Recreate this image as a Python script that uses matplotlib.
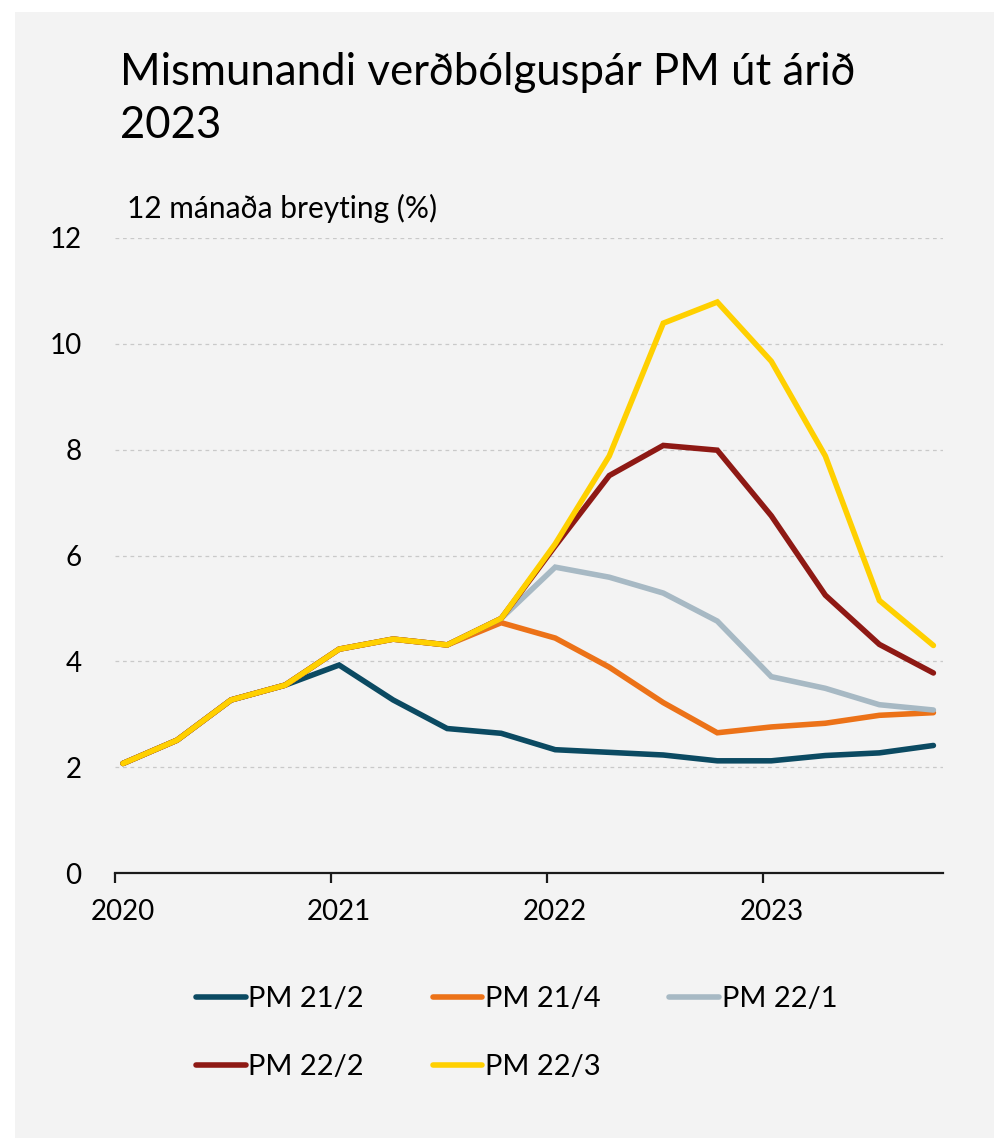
import matplotlib
matplotlib.use("Agg")
import matplotlib.pyplot as plt
import matplotlib.transforms as mtransforms
from matplotlib.patches import Rectangle
import numpy as np

plt.rcParams['font.family'] = ['Lato', 'DejaVu Sans']

# Quarterly data 2020Q1 - 2023Q4
quarters = ["2020Q1", "2020Q2", "2020Q3", "2020Q4",
            "2021Q1", "2021Q2", "2021Q3", "2021Q4",
            "2022Q1", "2022Q2", "2022Q3", "2022Q4",
            "2023Q1", "2023Q2", "2023Q3", "2023Q4"]

pm_21_2 = [2.07, 2.51, 3.27, 3.55, 3.93, 3.27, 2.73, 2.64,
           2.33, 2.28, 2.23, 2.12, 2.12, 2.22, 2.27, 2.41]
pm_21_4 = [2.07, 2.51, 3.27, 3.55, 4.23, 4.42, 4.31, 4.73,
           4.44, 3.89, 3.22, 2.65, 2.76, 2.83, 2.98, 3.03]
pm_22_1 = [2.07, 2.51, 3.27, 3.55, 4.23, 4.42, 4.31, 4.81,
           5.78, 5.59, 5.29, 4.76, 3.71, 3.49, 3.18, 3.08]
pm_22_2 = [2.07, 2.51, 3.27, 3.55, 4.23, 4.42, 4.31, 4.81,
           6.18, 7.51, 8.08, 7.99, 6.75, 5.25, 4.32, 3.78]
pm_22_3 = [2.07, 2.51, 3.27, 3.55, 4.23, 4.42, 4.31, 4.81,
           6.22, 7.88, 10.39, 10.79, 9.67, 7.88, 5.15, 4.30]

series_names = ["PM 21/2", "PM 21/4", "PM 22/1", "PM 22/2", "PM 22/3"]
series_values = [pm_21_2, pm_21_4, pm_22_1, pm_22_2, pm_22_3]
series_colors = ["#0B4A62", "#EC7218", "#A7B9C4", "#8E1914", "#FFD000"]

year_ticks = [2020, 2021, 2022, 2023]
y_ticks = [0, 2, 4, 6, 8, 10, 12]

title_line1 = "Mismunandi verðbólguspár PM út árið"
title_line2 = "2023"
subtitle = "12 mánaða breyting (%)"

# x positions: quarter start dates (approx. mid-January offset)
x = np.array([int(q[:4]) + (int(q[-1]) - 1) / 4 + 0.037 for q in quarters])

W, H = 995, 1138
fig = plt.figure(figsize=(W / 100, H / 100), dpi=100)
fig.patch.set_facecolor("white")
fig.patches.append(Rectangle((15 / W, 0), 1, 1 - 12 / H, transform=fig.transFigure,
                             facecolor="#F3F3F3", edgecolor="none", zorder=-10))

ax = fig.add_axes([115 / W, 1 - 873 / H, (943 - 115) / W, (873 - 238) / H])
ax.set_facecolor("none")

lines = {}
for name, vals, col in zip(series_names, series_values, series_colors):
    ln, = ax.plot(x, vals, color=col, lw=4.0, solid_capstyle="round",
                  solid_joinstyle="miter", label=name, zorder=3)
    lines[name] = ln

ax.set_xlim(2020, 2023 + (943 - 763) / 216.5)
ax.set_ylim(0, 12)
ax.set_yticks(y_ticks)
ax.set_xticks(year_ticks)
ax.set_xticklabels([str(y) for y in year_ticks])
ax.yaxis.grid(True, linestyle=(0, (3, 3)), color="#C9C9C9", lw=0.9)
ax.set_axisbelow(True)
for s in ["left", "right", "top"]:
    ax.spines[s].set_visible(False)
ax.spines["bottom"].set_color("#1a1a1a")
ax.spines["bottom"].set_linewidth(1.6)
ax.tick_params(axis="x", direction="out", length=7, width=1.6, color="#1a1a1a",
               labelsize=20, pad=12)
ax.tick_params(axis="y", length=0, labelsize=20, pad=24)
offset = mtransforms.ScaledTranslation(8 / 100, 0, fig.dpi_scale_trans)
for lab in ax.get_xticklabels():
    lab.set_transform(lab.get_transform() + offset)

fig.text(120 / W, 1 - 85 / H, title_line1, fontsize=31.5,
         va="baseline", ha="left", color="black")
fig.text(120 / W, 1 - 138 / H, title_line2, fontsize=31.5,
         va="baseline", ha="left", color="black")
fig.text(127 / W, 1 - 218 / H, subtitle, fontsize=21.5, va="baseline", ha="left")

order = ["PM 21/2", "PM 22/2", "PM 21/4", "PM 22/3", "PM 22/1"]
leg = fig.legend([lines[n] for n in order], order, ncol=3, loc="upper left",
                 bbox_to_anchor=(196 / W, 1 - 986 / H), frameon=False, fontsize=21,
                 handlelength=1.7, handletextpad=0.1, columnspacing=2.35,
                 labelspacing=1.45, borderaxespad=0, borderpad=0)

fig.savefig("out.png", dpi=100, facecolor=fig.get_facecolor())
